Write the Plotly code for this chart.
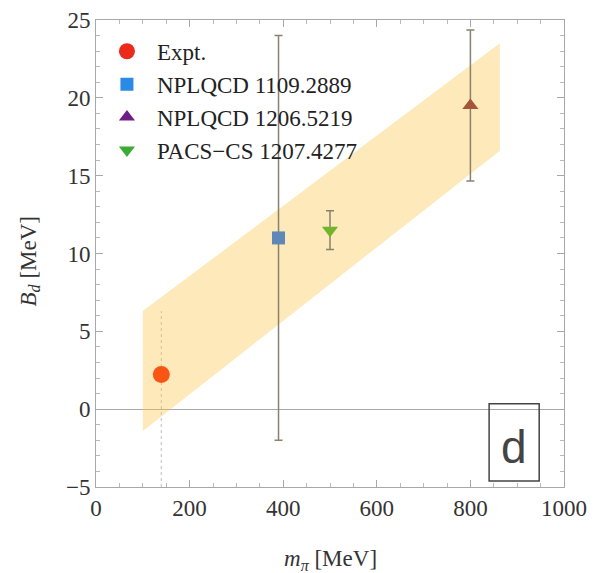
import plotly.graph_objects as go

# ---- data ----
series_names = ["Expt.", "NPLQCD 1109.2889", "NPLQCD 1206.5219", "PACS\u2212CS 1207.4277"]
m_pi = [139.57, 390.0, 800.0, 500.0]
B_d = [2.22, 11.0, 19.5, 11.5]
B_err = [0.0, 13.0, 4.85, 1.25]
legend_colors = ["#ea2a1a", "#2a8ae6", "#6e1f86", "#3caa34"]
plot_colors = ["#fa5514", "#5f88b8", "#a5553a", "#74b42c"]
symbols = ["circle", "square", "triangle-up", "triangle-down"]
sizes = [17, 13, 14, 14]

band_x = [100, 863, 863, 100]
band_upper = [6.3, 23.5]
band_lower = [-1.4, 16.6]

phys_line_x = [139.57, 139.57]
phys_line_y = [-5, 6.3]

x_ticks = [0, 200, 400, 600, 800, 1000]
y_ticks = [-5, 0, 5, 10, 15, 20, 25]

serif = "Liberation Serif, Times New Roman, serif"

fig = go.Figure()

# faint dotted line at physical pion mass
fig.add_trace(go.Scatter(x=phys_line_x, y=phys_line_y, mode="lines",
                         line=dict(color="#c8c8c8", width=1.2, dash="dot"),
                         showlegend=False, hoverinfo="skip"))

# translucent band
poly_x = band_x + [band_x[0]]
poly_y = [band_lower[0], band_lower[1], band_upper[1], band_upper[0], band_lower[0]]
fig.add_trace(go.Scatter(x=poly_x, y=poly_y, mode="lines", fill="toself",
                         fillcolor="rgba(250,196,70,0.38)", line=dict(width=0),
                         showlegend=False, hoverinfo="skip"))

# data points (as drawn inside the band)
for name, x, y, e, c, s, sz in zip(series_names, m_pi, B_d, B_err, plot_colors, symbols, sizes):
    err = dict(type="data", array=[e], visible=e > 0, color="#8a8070",
               thickness=1.5, width=4)
    fig.add_trace(go.Scatter(x=[x], y=[y], mode="markers", name=name,
                             marker=dict(color=c, symbol=s, size=sz),
                             error_y=err, showlegend=False))

# legend entries
for name, c, s, sz in zip(series_names, legend_colors, symbols, sizes):
    fig.add_trace(go.Scatter(x=[None], y=[None], mode="markers", name=name,
                             marker=dict(color=c, symbol=s, size=sz)))

axis_common = dict(showgrid=False, showline=True, linecolor="#a8a8a8", linewidth=1,
                   mirror="allticks", ticks="inside", ticklen=7, tickcolor="#a8a8a8",
                   automargin=False, ticklabeloverflow="allow",
                   tickfont=dict(family=serif, size=23, color="#333333"))

fig.update_xaxes(range=[0, 1000], tickvals=x_ticks, zeroline=False,
                 minor=dict(ticks="inside", dtick=50, ticklen=4, tickcolor="#b8b8b8"),
                 **axis_common)
fig.update_yaxes(range=[-5, 25], tickvals=y_ticks, zeroline=True, zerolinecolor="#a8a8a8",
                 zerolinewidth=1,
                 minor=dict(ticks="inside", dtick=1, ticklen=4, tickcolor="#b8b8b8"),
                 **axis_common)

# axis titles
fig.add_annotation(text="<i>m</i><sub><i>\u03c0</i></sub> [MeV]", xref="paper", yref="paper",
                   x=0.5, y=0, xanchor="center", yanchor="middle", yshift=-73, showarrow=False,
                   font=dict(family=serif, size=23, color="#333333"))
fig.add_annotation(text="<i>B</i><sub><i>d</i></sub> [MeV]", xref="paper", yref="paper",
                   x=0, y=0.483, xanchor="center", yanchor="middle", xshift=-66, textangle=-90,
                   showarrow=False, font=dict(family=serif, size=23, color="#333333"))

fig.add_shape(type="rect", xref="paper", yref="paper", x0=0.840, x1=0.947, y0=0.013, y1=0.178,
              line=dict(color="#444444", width=1.5))
fig.add_annotation(text="d", xref="paper", yref="paper", x=0.8935, y=0.085,
                   xanchor="center", yanchor="middle", showarrow=False,
                   font=dict(family="Liberation Sans, Arial, sans-serif", size=46, color="#444444"))

# the page body adds an 8px offset, so the figure is sized to fit the window
fig.update_layout(
    width=588, height=565,
    margin=dict(l=88, r=32, t=12, b=86),
    paper_bgcolor="white", plot_bgcolor="white",
    showlegend=True,
    legend=dict(x=0.002, y=0.979, xanchor="left", yanchor="top", bgcolor="rgba(0,0,0,0)",
                itemwidth=50,
                font=dict(family=serif, size=23, color="#222222"), tracegroupgap=0),
)

fig.write_html("out.html")
